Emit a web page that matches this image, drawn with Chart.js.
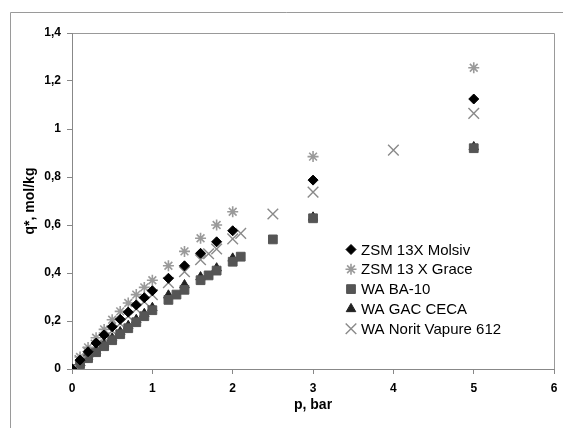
<!DOCTYPE html>
<html>
<head>
<meta charset="utf-8">
<script src="https://cdn.jsdelivr.net/npm/chart.js@4/dist/chart.umd.min.js"></script>
<style>
  html, body { margin: 0; padding: 0; background: #fff; }
  canvas { display: block; }
</style>
</head>
<body>
<canvas id="c" width="563" height="428"></canvas>
<script>
// ---- data ----
const seriesNames = ["ZSM 13X Molsiv", "ZSM 13 X Grace", "WA BA-10", "WA GAC CECA", "WA Norit Vapure 612"];

const pMolsiv = [0, 0.1, 0.2, 0.3, 0.4, 0.5, 0.6, 0.7, 0.8, 0.9, 1.0, 1.2, 1.4, 1.6, 1.8, 2.0, 3, 5];
const qMolsiv = [0, 0.037, 0.072, 0.108, 0.142, 0.176, 0.207, 0.237, 0.267, 0.297, 0.326, 0.378, 0.43, 0.482, 0.53, 0.576, 0.787, 1.125];

const pGrace = [0, 0.1, 0.2, 0.3, 0.4, 0.5, 0.6, 0.7, 0.8, 0.9, 1.0, 1.2, 1.4, 1.6, 1.8, 2.0, 3, 5];
const qGrace = [0, 0.05, 0.09, 0.13, 0.165, 0.205, 0.24, 0.275, 0.31, 0.34, 0.37, 0.43, 0.49, 0.545, 0.60, 0.655, 0.885, 1.255];

const pBA10 = [0, 0.1, 0.2, 0.3, 0.4, 0.5, 0.6, 0.7, 0.8, 0.9, 1.0, 1.2, 1.3, 1.4, 1.6, 1.7, 1.8, 2.0, 2.1, 2.5, 3, 5];
const qBA10 = [0, 0.02, 0.045, 0.07, 0.095, 0.12, 0.145, 0.17, 0.195, 0.22, 0.245, 0.288, 0.31, 0.33, 0.37, 0.39, 0.41, 0.447, 0.468, 0.54, 0.628, 0.92];

const pCECA = [0, 0.1, 0.2, 0.3, 0.4, 0.5, 0.6, 0.7, 0.8, 0.9, 1.0, 1.2, 1.4, 1.6, 1.8, 2.0, 3, 5];
const qCECA = [0, 0.025, 0.05, 0.077, 0.103, 0.128, 0.154, 0.18, 0.205, 0.23, 0.255, 0.307, 0.35, 0.383, 0.42, 0.461, 0.632, 0.925];

const pNorit = [0, 0.1, 0.2, 0.3, 0.4, 0.5, 0.6, 0.7, 0.8, 0.9, 1.0, 1.2, 1.4, 1.6, 1.7, 1.8, 2.0, 2.1, 2.5, 3, 4, 5];
const qNorit = [0, 0.035, 0.07, 0.1, 0.13, 0.16, 0.19, 0.22, 0.25, 0.28, 0.31, 0.36, 0.405, 0.455, 0.48, 0.50, 0.542, 0.565, 0.646, 0.737, 0.912, 1.065];

const xTickLabels = ["0", "1", "2", "3", "4", "5", "6"];
const yTickLabels = ["0", "0,2", "0,4", "0,6", "0,8", "1", "1,2", "1,4"];

const xTitle = "p, bar";
const yTitle = "q*, mol/kg";

// ---- build ----
function pts(p, q) { return p.map((x, i) => ({ x: x, y: q[i] })); }

const FONT = "'Liberation Sans', Arial, sans-serif";

const styles = [
  { pointStyle: 'rectRot', color: '#000000', radius: 5, bw: 1 },
  { pointStyle: 'star', color: '#9a9a9a', radius: 5.5, bw: 1.6 },
  { pointStyle: 'rect', color: '#555555', radius: 6.2, bw: 1 },
  { pointStyle: 'triangle', color: '#222222', radius: 5.5, bw: 1 },
  { pointStyle: 'crossRot', color: '#8a8a8a', radius: 7.5, bw: 1.4 }
];
const seriesData = [pts(pMolsiv, qMolsiv), pts(pGrace, qGrace), pts(pBA10, qBA10), pts(pCECA, qCECA), pts(pNorit, qNorit)];

const datasets = seriesNames.map((name, i) => ({
  label: name,
  data: seriesData[i],
  showLine: false,
  pointStyle: styles[i].pointStyle,
  pointRadius: styles[i].radius,
  pointHoverRadius: styles[i].radius,
  pointBackgroundColor: styles[i].color,
  pointBorderColor: styles[i].color,
  pointBorderWidth: styles[i].bw,
  backgroundColor: styles[i].color,
  borderColor: styles[i].color
}));

const framePlugin = {
  id: 'frame',
  beforeDraw(chart) {
    const ctx = chart.ctx;
    ctx.save();
    ctx.fillStyle = '#fff';
    ctx.fillRect(0, 0, chart.width, chart.height);
    // outer border
    ctx.strokeStyle = '#9a9a9a';
    ctx.lineWidth = 1;
    ctx.beginPath();
    ctx.moveTo(10.5, chart.height);
    ctx.lineTo(10.5, 12.5);
    ctx.lineTo(chart.width, 12.5);
    ctx.stroke();
    // plot area top and right lines
    const a = chart.chartArea;
    ctx.strokeStyle = '#999999';
    ctx.beginPath();
    ctx.moveTo(Math.round(a.left) + 0.5, Math.round(a.top) + 0.5);
    ctx.lineTo(Math.round(a.right) + 0.5, Math.round(a.top) + 0.5);
    ctx.lineTo(Math.round(a.right) + 0.5, Math.round(a.bottom) + 0.5);
    ctx.stroke();
    ctx.restore();
  }
};

const legendPlugin = {
  id: 'insideLegend',
  afterDraw(chart) {
    const ctx = chart.ctx;
    const x0 = 351, y0 = 249.5, dy = 19.8, tx = 361;
    ctx.save();
    chart.data.datasets.forEach((ds, i) => {
      const y = y0 + i * dy;
      ctx.save();
      ctx.fillStyle = ds.pointBackgroundColor;
      ctx.strokeStyle = ds.pointBorderColor;
      ctx.lineWidth = ds.pointBorderWidth;
      Chart.helpers.drawPoint(ctx, {
        pointStyle: ds.pointStyle,
        radius: ds.pointRadius,
        rotation: 0,
        borderWidth: ds.pointBorderWidth
      }, x0, y);
      ctx.restore();
      ctx.fillStyle = '#000';
      ctx.font = '15px ' + FONT;
      ctx.textBaseline = 'middle';
      ctx.textAlign = 'left';
      ctx.fillText(ds.label, tx, y + 1);
    });
    ctx.restore();
  }
};

new Chart(document.getElementById('c'), {
  type: 'scatter',
  data: { datasets: datasets },
  options: {
    responsive: false,
    animation: false,
    devicePixelRatio: 1,
    layout: { padding: { left: 0, top: 33, right: 0, bottom: 0 } },
    plugins: {
      legend: { display: false },
      tooltip: { enabled: false }
    },
    scales: {
      x: {
        type: 'linear',
        min: 0, max: 6,
        afterFit(scale) { scale.height = 59; scale.paddingRight = 3; scale.paddingLeft = 0; },
        ticks: {
          stepSize: 1,
          padding: 7,
          color: '#000',
          font: { family: FONT, size: 12, weight: 'bold' },
          callback: (v, i) => xTickLabels[i]
        },
        grid: { drawOnChartArea: false, drawTicks: true, tickLength: 5, color: '#888' },
        border: { display: true, color: '#888', width: 1 },
        title: {
          display: true, text: xTitle, color: '#000',
          font: { family: FONT, size: 14, weight: 'bold' },
          padding: { top: 0, bottom: 14 }
        }
      },
      y: {
        type: 'linear',
        min: 0, max: 1.4,
        afterFit(scale) { scale.width = 72; scale.paddingTop = 0; scale.paddingBottom = 0; },
        ticks: {
          stepSize: 0.2,
          padding: 6,
          color: '#000',
          font: { family: FONT, size: 12, weight: 'bold' },
          callback: (v, i) => yTickLabels[i]
        },
        grid: { drawOnChartArea: false, drawTicks: true, tickLength: 5, color: '#888' },
        border: { display: true, color: '#888', width: 1 },
        title: {
          display: true, text: yTitle, color: '#000',
          font: { family: FONT, size: 14, weight: 'bold' },
          padding: { top: 22, bottom: 0 }
        }
      }
    }
  },
  plugins: [framePlugin, legendPlugin]
});
</script>
</body>
</html>
